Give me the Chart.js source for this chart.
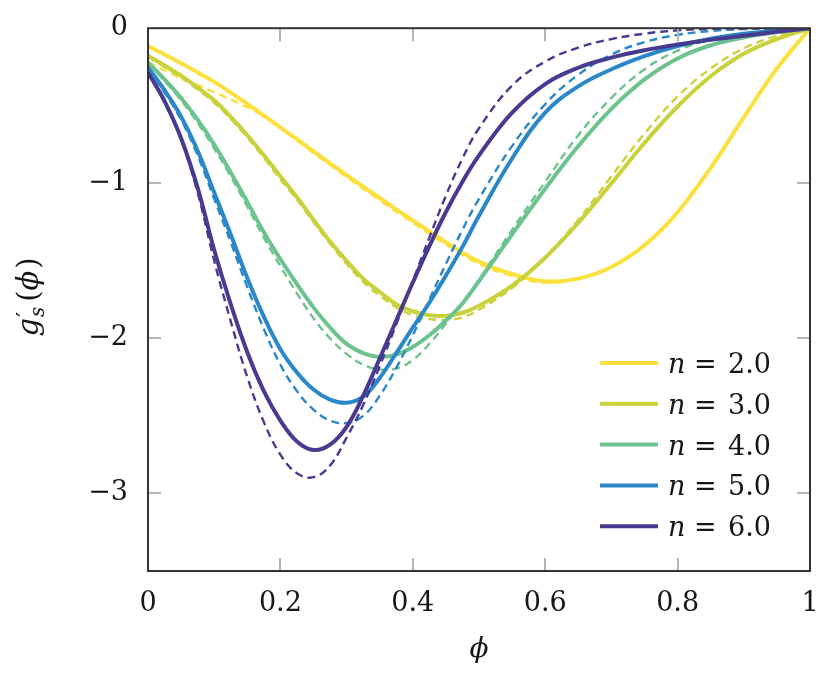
<!DOCTYPE html>
<html>
<head>
<meta charset="utf-8">
<script src="https://cdn.jsdelivr.net/npm/chart.js@4.4.1/dist/chart.umd.min.js"></script>
<style>
  html, body { margin: 0; padding: 0; background: #fff; }
</style>
</head>
<body>
<canvas id="chart" width="830" height="676"></canvas>
<script>
// sample positions along phi
var phi = [0, 0.025, 0.05, 0.075, 0.1, 0.125, 0.15, 0.175, 0.2, 0.225, 0.25, 0.275, 0.3, 0.325, 0.35,
           0.375, 0.4, 0.425, 0.45, 0.475, 0.5, 0.55, 0.6, 0.65, 0.7, 0.75, 0.8, 0.85, 0.9, 0.95, 1];

// g_s'(phi), solid curves
var n2Solid = [-0.115, -0.17, -0.226, -0.285, -0.346, -0.415, -0.488, -0.563, -0.639, -0.716, -0.794, -0.871, -0.947, -1.022, -1.095,
               -1.168, -1.24, -1.31, -1.38, -1.447, -1.505, -1.585, -1.632, -1.615, -1.54, -1.40, -1.187, -0.90, -0.575, -0.26, 0];
var n3Solid = [-0.178, -0.24, -0.306, -0.383, -0.465, -0.572, -0.69, -0.82, -0.955, -1.09, -1.235, -1.375, -1.50, -1.615, -1.70,
               -1.78, -1.825, -1.85, -1.855, -1.835, -1.79, -1.66, -1.48, -1.255, -1.0, -0.74, -0.505, -0.31, -0.165, -0.07, 0];
var n4Solid = [-0.22, -0.33, -0.45, -0.59, -0.75, -0.93, -1.12, -1.315, -1.49, -1.65, -1.80, -1.93, -2.035, -2.095, -2.12,
               -2.105, -2.055, -1.98, -1.885, -1.775, -1.63, -1.33, -1.035, -0.76, -0.52, -0.33, -0.195, -0.11, -0.06, -0.025, 0];
var n5Solid = [-0.253, -0.40, -0.57, -0.79, -1.06, -1.33, -1.61, -1.86, -2.07, -2.22, -2.33, -2.395, -2.415, -2.375, -2.255,
               -2.095, -1.93, -1.77, -1.595, -1.41, -1.21, -0.84, -0.545, -0.375, -0.265, -0.18, -0.115, -0.068, -0.036, -0.014, 0];
var n6Solid = [-0.285, -0.47, -0.71, -1.03, -1.43, -1.78, -2.09, -2.34, -2.53, -2.665, -2.72, -2.685, -2.57, -2.37, -2.13,
               -1.885, -1.64, -1.405, -1.185, -0.99, -0.82, -0.545, -0.36, -0.255, -0.19, -0.142, -0.105, -0.075, -0.048, -0.023, 0];

// dashed curves
var n2Dashed = [-0.22, -0.27, -0.322, -0.367, -0.412, -0.46, -0.51, -0.568, -0.645, -0.725, -0.805, -0.883, -0.96, -1.036, -1.11,
                -1.183, -1.255, -1.325, -1.395, -1.46, -1.52, -1.598, -1.64, -1.615, -1.54, -1.40, -1.187, -0.90, -0.575, -0.26, 0];
var n3Dashed = [-0.185, -0.25, -0.318, -0.395, -0.48, -0.585, -0.705, -0.835, -0.975, -1.105, -1.25, -1.39, -1.52, -1.635, -1.725,
                -1.80, -1.85, -1.875, -1.882, -1.865, -1.815, -1.675, -1.475, -1.235, -0.955, -0.68, -0.44, -0.26, -0.13, -0.05, 0];
var n4Dashed = [-0.23, -0.34, -0.465, -0.61, -0.775, -0.955, -1.15, -1.35, -1.535, -1.71, -1.87, -2.0, -2.1, -2.17, -2.2,
                -2.195, -2.14, -2.035, -1.905, -1.77, -1.62, -1.30, -0.99, -0.69, -0.45, -0.265, -0.145, -0.075, -0.035, -0.012, 0];
var n5Dashed = [-0.26, -0.415, -0.59, -0.82, -1.10, -1.38, -1.67, -1.94, -2.17, -2.34, -2.46, -2.53, -2.545, -2.50, -2.37,
                -2.19, -1.98, -1.75, -1.52, -1.30, -1.10, -0.76, -0.49, -0.30, -0.17, -0.09, -0.043, -0.018, -0.006, -0.001, 0];
var n6Dashed = [-0.29, -0.48, -0.72, -1.06, -1.50, -1.89, -2.25, -2.54, -2.75, -2.87, -2.895, -2.82, -2.64, -2.43, -2.18,
                -1.91, -1.63, -1.35, -1.08, -0.84, -0.645, -0.37, -0.215, -0.125, -0.07, -0.035, -0.014, -0.004, 0, 0, 0];

var nValues = ['2.0', '3.0', '4.0', '5.0', '6.0'];
var xTickValues = [0, 0.2, 0.4, 0.6, 0.8, 1];
var yTickValues = [0, -1, -2, -3];

var solidSeries = [n2Solid, n3Solid, n4Solid, n5Solid, n6Solid];
var dashedSeries = [n2Dashed, n3Dashed, n4Dashed, n5Dashed, n6Dashed];
var seriesColors = ['#fde03d', '#c9d13b', '#6cc38e', '#2a87c8', '#463b91'];

var serif = 'DejaVu Serif';
var textColor = '#161616';

function toPoints(vals) {
    return phi.map(function(x, k) { return { x: x, y: vals[k] }; });
}

var datasets = [];
solidSeries.forEach(function(vals, i) {
    datasets.push({
        label: 'n = ' + nValues[i],
        data: toPoints(vals),
        borderColor: seriesColors[i],
        borderWidth: 4,
        pointRadius: 0,
        tension: 0.4,
        fill: false
    });
    datasets.push({
        label: 'n = ' + nValues[i] + ' (dashed)',
        data: toPoints(dashedSeries[i]),
        borderColor: seriesColors[i],
        borderWidth: 2.4,
        borderDash: [8, 5],
        pointRadius: 0,
        tension: 0.4,
        fill: false
    });
});
// later datasets on top
datasets.forEach(function(d, i) { d.order = datasets.length - i; });

// frame, inward ticks, legend and axis titles
var decorPlugin = {
    id: 'decor',
    afterDatasetsDraw: function(chart) {
        var ctx = chart.ctx, a = chart.chartArea;
        var xs = chart.scales.x, ys = chart.scales.y;
        ctx.save();

        ctx.strokeStyle = '#b5b5b5';
        ctx.lineWidth = 2;
        ctx.beginPath();
        xTickValues.forEach(function(v) {
            if (v <= 0 || v >= 1) return;
            var px = Math.round(xs.getPixelForValue(v));
            ctx.moveTo(px, a.top); ctx.lineTo(px, a.top + 13);
            ctx.moveTo(px, a.bottom); ctx.lineTo(px, a.bottom - 13);
        });
        yTickValues.forEach(function(v) {
            if (v >= 0) return;
            var py = Math.round(ys.getPixelForValue(v));
            ctx.moveTo(a.left, py); ctx.lineTo(a.left + 13, py);
            ctx.moveTo(a.right, py); ctx.lineTo(a.right - 13, py);
        });
        ctx.stroke();

        ctx.strokeStyle = '#333333';
        ctx.lineWidth = 2;
        ctx.strokeRect(a.left, a.top, a.right - a.left, a.bottom - a.top);

        // legend
        var rowY = 363, rowStep = 40.8;
        ctx.fillStyle = textColor;
        ctx.textBaseline = 'alphabetic';
        nValues.forEach(function(nv, i) {
            var y = rowY + i * rowStep;
            ctx.strokeStyle = seriesColors[i];
            ctx.lineWidth = 4;
            ctx.beginPath();
            ctx.moveTo(600, y); ctx.lineTo(658, y);
            ctx.stroke();
            ctx.textAlign = 'left';
            ctx.font = 'italic 27px "' + serif + '"';
            ctx.fillText('n', 668, y + 10);
            ctx.font = '27px "' + serif + '"';
            ctx.fillText('=', 694, y + 10);
            ctx.fillText(nv, 728, y + 10);
        });

        // x title
        ctx.textAlign = 'center';
        ctx.font = 'italic 28px "' + serif + '"';
        ctx.fillText('\u03D5', (a.left + a.right) / 2, 657);

        // y title, rotated: g'_s(phi)
        ctx.translate(38, 297);
        ctx.rotate(-Math.PI / 2);
        ctx.textAlign = 'left';
        var big = 'italic 29px "' + serif + '"';
        var up = '29px "' + serif + '"';
        var small = 'italic 20px "' + serif + '"';
        ctx.font = big; var wg = ctx.measureText('g').width;
        ctx.font = small; var ws = ctx.measureText('s').width;
        ctx.font = up; var wp = ctx.measureText('(').width;
        ctx.font = big; var wf = ctx.measureText('\u03D5').width;
        var total = wg + ws + 6 + wp * 2 + wf + 2;
        var x = -total / 2;
        ctx.font = big; ctx.fillText('g', x, 0); x += wg;
        ctx.font = '23px "' + serif + '"'; ctx.fillText('\u2032', x + 1, -6);
        ctx.font = small; ctx.fillText('s', x + 1, 6); x += ws + 6;
        ctx.font = up; ctx.fillText('(', x, 0); x += wp;
        ctx.font = big; ctx.fillText('\u03D5', x, 0); x += wf + 2;
        ctx.font = up; ctx.fillText(')', x, 0);

        ctx.restore();
    }
};

var ctx = document.getElementById('chart').getContext('2d');
var chart = new Chart(ctx, {
    type: 'line',
    data: { datasets: datasets },
    options: {
        responsive: false,
        animation: false,
        devicePixelRatio: 1,
        layout: { padding: { left: 0, right: 20, top: 22, bottom: 0 } },
        plugins: {
            legend: { display: false },
            tooltip: { enabled: false }
        },
        scales: {
            x: {
                type: 'linear',
                min: 0,
                max: 1,
                grid: { display: false },
                border: { display: false },
                afterBuildTicks: function(s) { s.ticks = xTickValues.map(function(v) { return { value: v }; }); },
                afterFit: function(s) { s.height = 105; },
                ticks: {
                    autoSkip: false,
                    maxRotation: 0,
                    padding: 9,
                    color: textColor,
                    font: { family: serif, size: 27 },
                    callback: function(v) { return (v === 0 || v === 1) ? String(v) : v.toFixed(1); }
                }
            },
            y: {
                type: 'linear',
                min: -3.5,
                max: 0,
                grid: { display: false },
                border: { display: false },
                afterBuildTicks: function(s) { s.ticks = yTickValues.map(function(v) { return { value: v }; }); },
                afterFit: function(s) { s.width = 148; },
                ticks: {
                    padding: 12,
                    color: textColor,
                    font: { family: serif, size: 27 },
                    callback: function(v) { return v === 0 ? '0' : '\u2212' + Math.abs(v); }
                }
            }
        }
    },
    plugins: [decorPlugin]
});
</script>
</body>
</html>
